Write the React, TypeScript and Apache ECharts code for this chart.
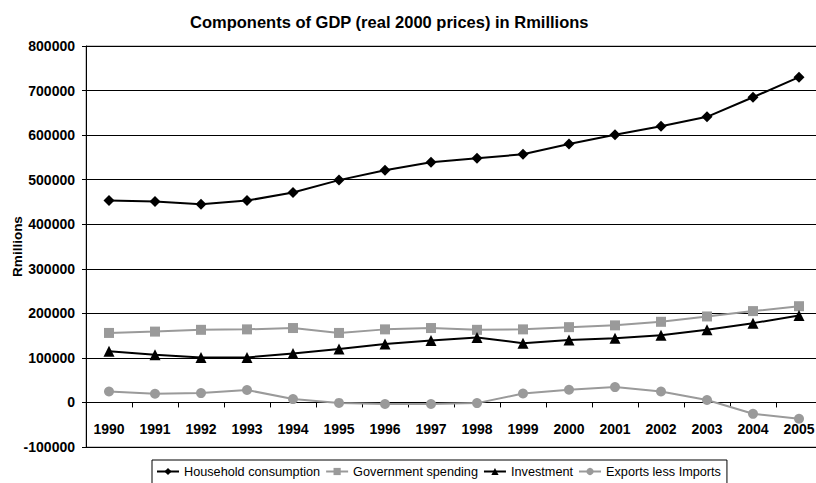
import React, { useEffect, useRef } from "react";
import * as echarts from "echarts";

const years = [
  "1990", "1991", "1992", "1993", "1994", "1995", "1996", "1997",
  "1998", "1999", "2000", "2001", "2002", "2003", "2004", "2005",
];

const householdConsumption = [
  453000, 451000, 445000, 453000, 471000, 499000, 521000, 539000,
  548000, 557000, 580000, 601000, 620000, 641000, 685000, 730000,
];

const governmentSpending = [
  156000, 159000, 163000, 164000, 167000, 156000, 164000, 167000,
  163000, 164000, 169000, 173000, 181000, 193000, 205000, 216000,
];

const investment = [
  115000, 107000, 101000, 101000, 110000, 120000, 131000, 139000,
  146000, 133000, 140000, 144000, 151000, 163000, 178000, 195000,
];

const exportsLessImports = [
  24500, 19500, 21000, 28000, 7500, -1000, -3500, -3500,
  -1500, 20000, 28500, 34500, 24500, 5500, -25500, -36500,
];

const yMin = -100000;
const yMax = 800000;
const yStep = 100000;

const FONT = "'Liberation Sans', Arial, sans-serif";
const BLACK = "#000000";
const GREY = "#9a9a9a";

// Plot box in pixels
const GRID_TOP = 46;
const GRID_BOTTOM = 36;
const CHART_H = 483;

export default function App() {
  const ref = useRef<HTMLDivElement>(null);

  useEffect(() => {
    document.body.style.margin = "0";
    if (!ref.current) return;
    const chart = echarts.init(ref.current, undefined, { renderer: "svg" });

    // Category axis sits on the zero line of the value axis.
    const plotH = CHART_H - GRID_TOP - GRID_BOTTOM;
    const zeroFromBottom = (plotH * (0 - yMin)) / (yMax - yMin);

    const lineSeries = (
      name: string,
      data: number[],
      color: string,
      symbol: string,
      symbolSize: number
    ) => ({
      name,
      type: "line",
      data,
      symbol,
      symbolSize,
      showAllSymbol: true,
      lineStyle: { color, width: 2 },
      itemStyle: { color, borderWidth: 0 },
      emphasis: { disabled: true },
    });

    chart.setOption({
      animation: false,
      backgroundColor: "#ffffff",
      textStyle: { fontFamily: FONT },
      title: {
        text: "Components of GDP (real 2000 prices) in Rmillions",
        left: 185,
        top: 8,
        textStyle: {
          fontFamily: FONT,
          fontSize: 16.5,
          fontWeight: "bold",
          color: BLACK,
        },
      },
      legend: {
        left: 152,
        top: 460,
        padding: [5, 6, 12, 4],
        borderColor: BLACK,
        borderWidth: 1,
        borderRadius: 0,
        itemWidth: 22,
        itemHeight: 9,
        itemGap: 5,
        textStyle: { fontFamily: FONT, fontSize: 12.7, color: BLACK },
        data: [
          "Household consumption",
          "Government spending",
          "Investment",
          "Exports less Imports",
        ],
      },
      grid: {
        left: 86,
        top: GRID_TOP,
        right: -6,
        bottom: GRID_BOTTOM,
        outerBoundsMode: "none",
        containLabel: false,
        show: true,
        borderColor: "#8c8c8c",
        borderWidth: 1,
        backgroundColor: "transparent",
      },
      xAxis: {
        type: "category",
        data: years,
        boundaryGap: true,
        offset: -zeroFromBottom,
        axisLine: { onZero: false, lineStyle: { color: BLACK, width: 1 } },
        axisTick: { show: true, length: 5, inside: false, lineStyle: { color: BLACK } },
        axisLabel: {
          interval: 0,
          margin: 20,
          fontFamily: FONT,
          fontSize: 14,
          fontWeight: "bold",
          color: BLACK,
        },
        splitLine: { show: false },
      },
      yAxis: {
        type: "value",
        min: yMin,
        max: yMax,
        interval: yStep,
        name: "Rmillions",
        nameLocation: "middle",
        nameRotate: 90,
        nameGap: 62,
        nameMoveOverlap: false,
        nameTextStyle: {
          fontFamily: FONT,
          fontSize: 13.5,
          fontWeight: "bold",
          color: BLACK,
        },
        axisLine: { show: true, lineStyle: { color: BLACK, width: 1 } },
        axisTick: { show: true, length: 4, inside: false, lineStyle: { color: BLACK } },
        axisLabel: {
          margin: 11,
          formatter: (v: number) => String(v),
          fontFamily: FONT,
          fontSize: 14,
          fontWeight: "bold",
          color: BLACK,
        },
        splitLine: { show: true, lineStyle: { color: BLACK, width: 1 } },
      },
      series: [
        lineSeries("Household consumption", householdConsumption, BLACK, "diamond", 11),
        lineSeries("Government spending", governmentSpending, GREY, "rect", 10),
        lineSeries("Investment", investment, BLACK, "triangle", 11),
        lineSeries("Exports less Imports", exportsLessImports, GREY, "circle", 10),
      ],
    });

    return () => chart.dispose();
  }, []);

  return (
    <div
      ref={ref}
      style={{ position: "absolute", left: 0, top: 0, width: 816, height: CHART_H }}
    />
  );
}
